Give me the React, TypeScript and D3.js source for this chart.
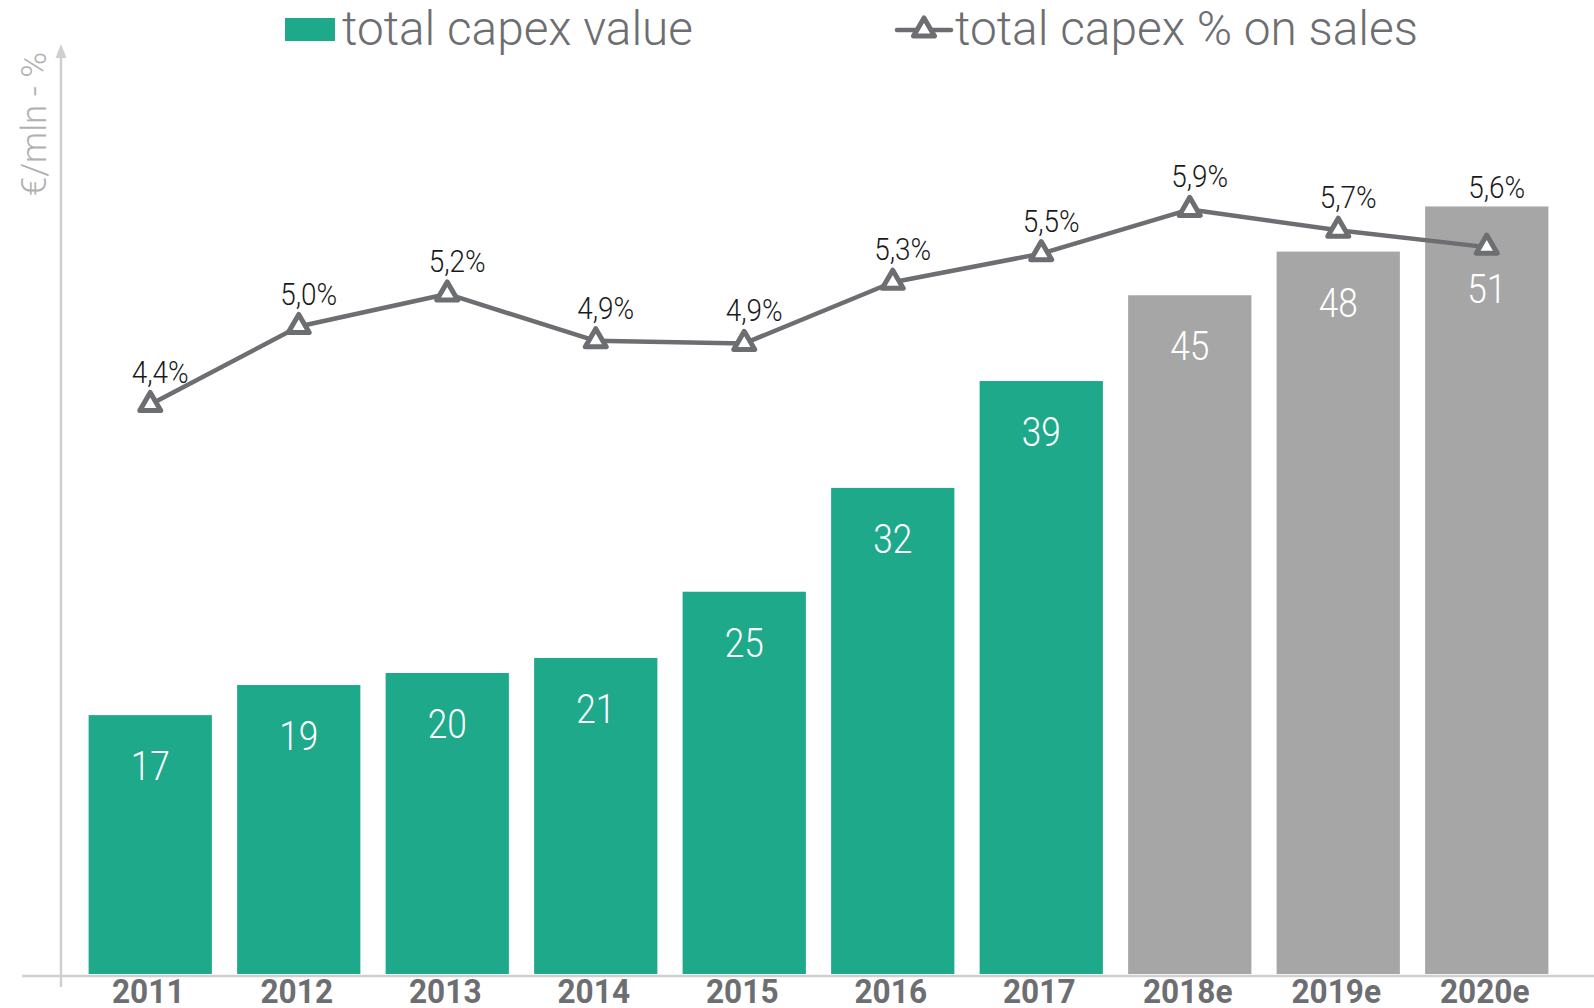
import * as d3 from "d3";

const years = ["2011", "2012", "2013", "2014", "2015", "2016", "2017", "2018e", "2019e", "2020e"];
const capexValues = [17.2, 19.2, 20.0, 21.0, 25.4, 32.3, 39.4, 45.1, 48.0, 51.0];
const capexPct = [4.4, 5.0, 5.25, 4.89, 4.87, 5.34, 5.56, 5.9, 5.74, 5.61];
const pctLabels = ["4,4%", "5,0%", "5,2%", "4,9%", "4,9%", "5,3%", "5,5%", "5,9%", "5,7%", "5,6%"];
const legendLabels = ["total capex value", "total capex % on sales"];
const axisTitle = "€/mln - %";

const width = 1594;
const height = 1008;
const green = "#1da98a";
const grey = "#a6a6a6";
const lineColor = "#6d6e71";
const axisColor = "#cfcfcf";
const font = "Roboto, 'Noto Sans', sans-serif";

const baseY = 974;

export default function App() {
  const x = d3.scaleBand().domain(years).range([76, 1561]).paddingInner(0.17).paddingOuter(0.085);
  const yBar = d3.scaleLinear().domain([0, 60]).range([baseY, 71]);
  const yPct = d3.scaleLinear().domain([0, 7]).range([baseY + 3, baseY + 3 - 7 * 130.1]);

  const pts = years.map((yr, i) => ({ yr, x: x(yr)! + x.bandwidth() / 2, y: yPct(capexPct[i]) }));
  const line = d3.line<{ x: number; y: number }>().x((d) => d.x).y((d) => d.y);
  const tri = d3.symbol().type(d3.symbolTriangle).size(190)()!;

  return (
    <svg width={width} height={height} style={{ position: "absolute", left: 0, top: 0, background: "#fff" }}>
      {/* axes */}
      <line x1={22} x2={width} y1={baseY + 2} y2={baseY + 2} stroke={axisColor} strokeWidth={2.5} />
      <line x1={61} x2={61} y1={56} y2={987} stroke={axisColor} strokeWidth={2.5} />
      <path d="M61,44 L55.5,58 L66.5,58 Z" fill={axisColor} />
      <text
        transform="translate(46,124) rotate(-90)"
        textAnchor="middle"
        fontFamily={font}
        fontWeight={300}
        fontSize={35}
        fill="#b0b0b0"
      >
        {axisTitle}
      </text>

      {/* bars */}
      {years.map((yr, i) => (
        <rect
          key={yr}
          x={x(yr)}
          y={yBar(capexValues[i])}
          width={x.bandwidth()}
          height={baseY - yBar(capexValues[i])}
          fill={yr.endsWith("e") ? grey : green}
        />
      ))}

      {/* bar value labels */}
      {years.map((yr, i) => {
        const cx = x(yr)! + x.bandwidth() / 2;
        let cy = yBar(capexValues[i]) + 51;
        // keep the label clear of the line marker
        if (Math.abs(cy - pts[i].y) < 30) cy = pts[i].y + 42;
        return (
          <g key={yr} transform={`translate(${cx},${cy + 14}) scale(0.88,1)`}>
            <text textAnchor="middle" fontFamily={font} fontWeight={300} fontSize={40} fill="#fff">
              {Math.round(capexValues[i])}
            </text>
          </g>
        );
      })}

      {/* line */}
      <path d={line(pts)!} fill="none" stroke={lineColor} strokeWidth={4.5} strokeLinejoin="round" />
      {pts.map((p) => (
        <path
          key={p.yr}
          d={tri}
          transform={`translate(${p.x},${p.y})`}
          fill="#fff"
          stroke={lineColor}
          strokeWidth={5}
          strokeLinejoin="round"
        />
      ))}

      {/* pct labels */}
      {pts.map((p, i) => {
        const ly = Math.min(p.y - 33, yBar(capexValues[i]) - 19);
        return (
          <g key={p.yr} transform={`translate(${p.x + 10},${ly + 11}) scale(0.9,1)`}>
            <text textAnchor="middle" fontFamily={font} fontWeight={300} fontSize={31} fill="#1a1a1a">
              {pctLabels[i]}
            </text>
          </g>
        );
      })}

      {/* year labels */}
      {years.map((yr) => (
        <g key={yr} transform={`translate(${x(yr)! + x.bandwidth() / 2 - 2},${1003}) scale(0.93,1)`}>
          <text textAnchor="middle" fontFamily={font} fontWeight={700} fontSize={34} fill="#6d6e71">
            {yr}
          </text>
        </g>
      ))}

      {/* legend */}
      <rect x={285} y={18} width={50} height={23} fill={green} />
      <text
        x={342}
        y={45}
        fontFamily={font}
        fontWeight={300}
        fontSize={48}
        fill={lineColor}
        textLength={351}
        lengthAdjust="spacingAndGlyphs"
      >
        {legendLabels[0]}
      </text>
      <line x1={897} x2={951} y1={30} y2={30} stroke={lineColor} strokeWidth={4.5} strokeLinecap="round" />
      <path d={tri} transform="translate(924,30)" fill="#fff" stroke={lineColor} strokeWidth={5} strokeLinejoin="round" />
      <text
        x={955}
        y={45}
        fontFamily={font}
        fontWeight={300}
        fontSize={48}
        fill={lineColor}
        textLength={463}
        lengthAdjust="spacingAndGlyphs"
      >
        {legendLabels[1]}
      </text>
    </svg>
  );
}
